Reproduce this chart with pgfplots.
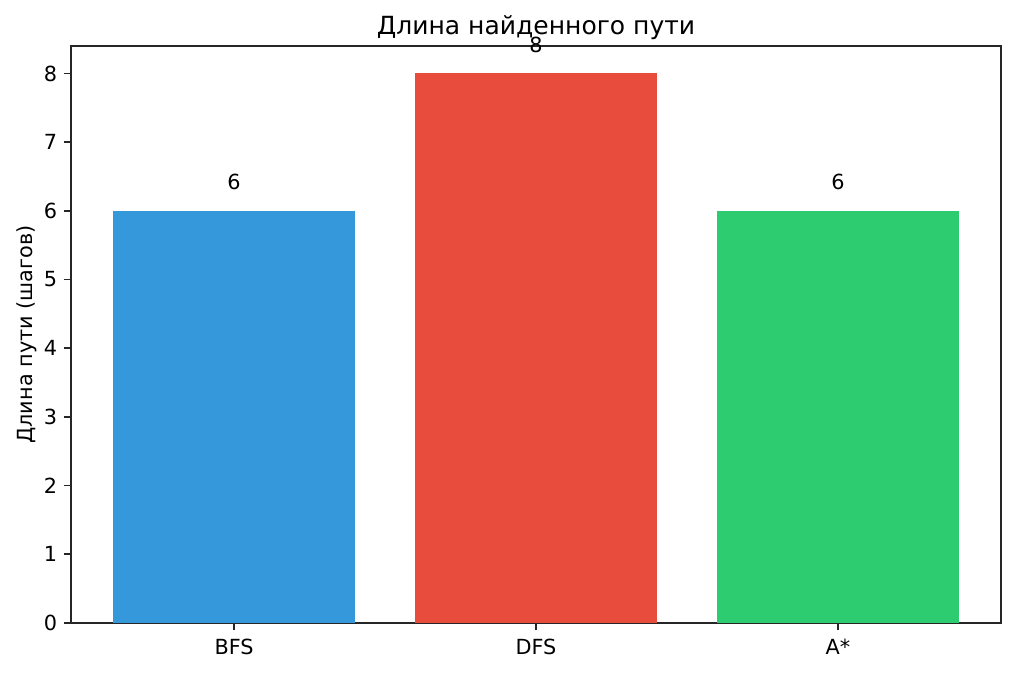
\documentclass[border=0pt]{standalone}
\usepackage{pgfplots}
\pgfplotsset{compat=1.18}
\usepackage{fontspec}
\setmainfont{DejaVu Sans}
\definecolor{cB}{HTML}{3498DB}
\definecolor{cR}{HTML}{E74C3C}
\definecolor{cG}{HTML}{2ECC71}
\begin{document}
\begin{tikzpicture}[x=1pt,y=1pt]
\path[use as bounding box] (0,0) rectangle (1016,673);
\begin{axis}[
  at={(71pt,50pt)}, anchor=south west,
  width=930pt, height=577pt, scale only axis,
  xmin=-0.54, xmax=2.54, ymin=0, ymax=8.4,
  xtick={0,1,2}, xticklabels={BFS,DFS,A*},
  ytick={0,1,...,8},
  tick align=outside, xtick pos=bottom, ytick pos=left,
  major tick length=7.3pt,
  every tick/.style={black!85, line width=1.67pt},
  axis line style={line width=1.67pt, black!85},
  tick label style={font=\fontsize{20.8}{25}\selectfont},
  /pgf/number format/assume math mode=true,
  xticklabel style={yshift=-5pt},
  yticklabel style={xshift=-3pt},
  ybar, bar width=0.8,
  clip=false,
]
\addplot[fill=cB, draw=none, bar shift=0pt] coordinates {(0,6)};
\addplot[fill=cR, draw=none, bar shift=0pt] coordinates {(1,8)};
\addplot[fill=cG, draw=none, bar shift=0pt] coordinates {(2,6)};
\node[anchor=south, inner sep=0pt, font=\fontsize{20.8}{25}\selectfont] at (axis cs:0,6.3) {6};
\node[anchor=south, inner sep=0pt, font=\fontsize{20.8}{25}\selectfont] at (axis cs:1,8.3) {8};
\node[anchor=south, inner sep=0pt, font=\fontsize{20.8}{25}\selectfont] at (axis cs:2,6.3) {6};
\end{axis}
\node[anchor=base, inner sep=0pt, font=\fontsize{25}{30}\selectfont] at (536,673-35) {Длина найденного пути};
\node[anchor=base, rotate=90, inner sep=0pt, font=\fontsize{20.8}{25}\selectfont] at (32,673-334.5) {Длина пути (шагов)};
\end{tikzpicture}
\end{document}
